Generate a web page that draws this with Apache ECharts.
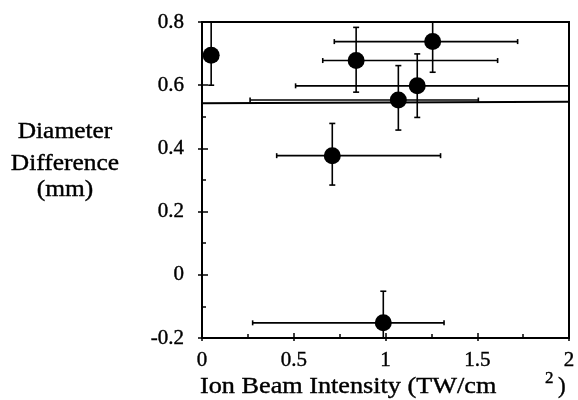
<!DOCTYPE html>
<html><head><meta charset="utf-8">
<script src="https://cdn.jsdelivr.net/npm/echarts@6/dist/echarts.min.js"></script>
<style>html,body{margin:0;padding:0;background:#fff}#c{width:578px;height:400px}</style>
</head><body><div id="c"></div>
<script>
// Data
const intensity = [0.05, 0.84, 1.257, 1.07, 1.173, 0.71, 0.988];
const diamDiff  = [0.695, 0.678, 0.738, 0.553, 0.598, 0.377, -0.152];
const xErrLow   = [0.05, 0.658, 0.721, 0.262, 0.51, 0.407, 0.276];
const xErrHigh  = [0.05, 1.611, 1.72, 1.506, 2.05, 1.30, 1.319];
const yErrLow   = [0.60, 0.578, 0.641, 0.458, 0.498, 0.284, -0.25];
const yErrHigh  = [0.82, 0.783, 0.84, 0.662, 0.699, 0.479, -0.052];
const refLineY  = [0.543, 0.548];
const refLineX  = [0, 2];
const xTicks = {min: 0, max: 2, interval: 0.5};
const yTicks = {min: -0.2, max: 0.8, interval: 0.2};

const pts = intensity.map((x, i) => [x, diamDiff[i]]);
const errData = intensity.map((x, i) => [x, diamDiff[i], xErrLow[i], xErrHigh[i], yErrLow[i], yErrHigh[i]]);
const FONT = 'Liberation Serif';

function renderErr(params, api) {
  const cs = params.coordSys;
  const clampX = v => Math.max(cs.x, Math.min(cs.x + cs.width, v));
  const clampY = v => Math.max(cs.y, Math.min(cs.y + cs.height, v));
  const x = api.value(0), y = api.value(1);
  const c = api.coord([x, y]);
  const l = api.coord([api.value(2), y]);
  const r = api.coord([api.value(3), y]);
  const b = api.coord([x, api.value(4)]);
  const t = api.coord([x, api.value(5)]);
  const st = {stroke: '#000', lineWidth: 1.6};
  const ch = [];
  const line = (x1, y1, x2, y2) => ch.push({type: 'line', shape: {x1, y1, x2, y2}, style: st});
  const lx = clampX(l[0]), rx = clampX(r[0]);
  const ty = clampY(t[1]), by = clampY(b[1]);
  if (rx - lx > 1) {
    line(lx, c[1], rx, c[1]);
    if (l[0] >= cs.x) line(lx, c[1] - 2.5, lx, c[1] + 2.5);
    if (r[0] <= cs.x + cs.width) line(rx, c[1] - 2.5, rx, c[1] + 2.5);
  }
  line(c[0], ty, c[0], by);
  if (t[1] >= cs.y) line(c[0] - 3, ty, c[0] + 3, ty);
  if (b[1] <= cs.y + cs.height) line(c[0] - 3, by, c[0] + 3, by);
  return {type: 'group', children: ch};
}

function txt(text, x, y, size, scaleX) {
  return {type: 'text', x: x, y: y, scaleX: scaleX || 1,
    style: {text: text, fontFamily: FONT, fontSize: size, fill: '#000', stroke: '#000', lineWidth: 0.4,
            align: 'left', verticalAlign: 'middle'}};
}
function ctxt(text, x, y, size, scaleX) {
  const t = txt(text, x, y, size, scaleX);
  t.style.align = 'center';
  return t;
}

const chart = echarts.init(document.getElementById('c'), null, {renderer: 'canvas'});
const axisLine = {show: true, onZero: false, lineStyle: {color: '#000', width: 2}};
const lbl = {color: '#000', fontFamily: FONT, fontSize: 21, textBorderColor: '#000', textBorderWidth: 0.4};
chart.setOption({
  animation: false,
  grid: {left: 202, right: 9, top: 22, bottom: 62, show: true, borderColor: '#000', borderWidth: 2, backgroundColor: 'transparent'},
  xAxis: [
    {type: 'value', min: xTicks.min, max: xTicks.max, interval: xTicks.interval,
     axisLine, splitLine: {show: false},
     axisTick: {show: true, inside: true, length: 5, lineStyle: {color: '#000', width: 1.5}},
     minorTick: {show: true, splitNumber: 2, length: 4, lineStyle: {color: '#000', width: 1.5}},
     axisLabel: Object.assign({margin: 12}, lbl)},
    {type: 'value', position: 'bottom', min: xTicks.min, max: xTicks.max, interval: xTicks.interval,
     axisLine: {show: false, onZero: false}, splitLine: {show: false},
     axisTick: {show: true, inside: false, length: 3, lineStyle: {color: '#000', width: 1.5}},
     axisLabel: {show: false}}
  ],
  yAxis: [
    {type: 'value', min: yTicks.min, max: yTicks.max, interval: yTicks.interval,
     axisLine, splitLine: {show: false},
     axisTick: {show: true, inside: true, length: 6, lineStyle: {color: '#000', width: 1.5}},
     minorTick: {show: true, splitNumber: 2, length: 4, lineStyle: {color: '#000', width: 1.5}},
     axisLabel: Object.assign({margin: 18, formatter: v => String(Math.round(v * 10) / 10)}, lbl)},
    {type: 'value', position: 'left', min: yTicks.min, max: yTicks.max, interval: yTicks.interval,
     axisLine: {show: false, onZero: false}, splitLine: {show: false},
     axisTick: {show: true, inside: false, length: 4, lineStyle: {color: '#000', width: 1.5}},
     axisLabel: {show: false}}
  ],
  series: [
    {type: 'line', data: refLineX.map((x, i) => [x, refLineY[i]]), symbol: 'none',
     lineStyle: {color: '#000', width: 2}, silent: true, z: 1},
    {type: 'custom', data: errData, renderItem: renderErr, z: 3},
    {type: 'scatter', data: pts, symbol: 'circle', symbolSize: 17,
     itemStyle: {color: '#000', opacity: 1}, z: 4}
  ],
  graphic: [
    ctxt('Diameter', 65, 132, 24, 1.06),
    ctxt('Difference', 65, 164, 24, 1.06),
    ctxt('(mm)', 65, 190, 24, 1.06),
    txt('Ion Beam Intensity (TW/cm', 200, 387, 23, 1.14),
    txt('2', 545, 379, 17),
    txt(')', 558, 387, 23)
  ]
});
</script></body></html>
